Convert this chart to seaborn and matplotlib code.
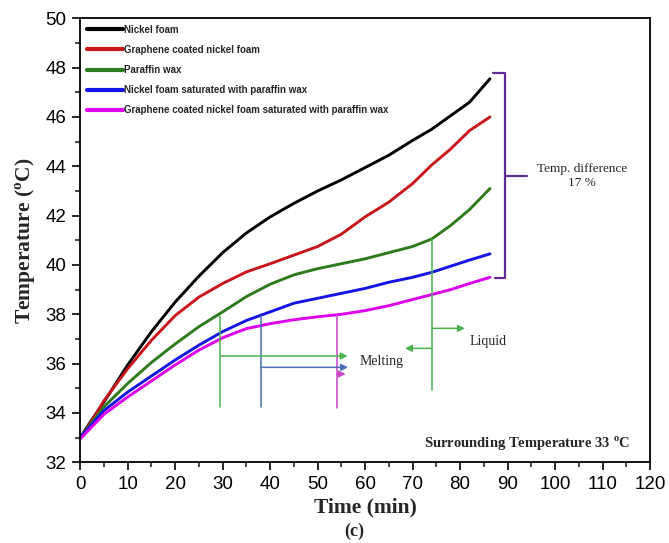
import pandas as pd
import matplotlib.pyplot as plt
import seaborn as sns

# time (min) and temperature (degC)
time = [0, 2, 5, 10, 15, 20, 25, 30, 35, 40, 45, 50, 55, 60, 65, 70, 74, 78, 82, 86.3]

nickel_foam = [33.0, 33.6, 34.45, 35.95, 37.3, 38.5, 39.55, 40.5, 41.3, 41.95,
               42.5, 43.0, 43.45, 43.95, 44.45, 45.05, 45.5, 46.05, 46.6, 47.55]
graphene_foam = [33.0, 33.55, 34.5, 35.8, 36.95, 37.95, 38.7, 39.25, 39.72, 40.05,
                 40.4, 40.75, 41.25, 41.95, 42.55, 43.3, 44.05, 44.7, 45.45, 46.0]
paraffin = [33.0, 33.5, 34.25, 35.2, 36.05, 36.8, 37.5, 38.1, 38.72, 39.22,
            39.6, 39.85, 40.05, 40.25, 40.5, 40.75, 41.05, 41.6, 42.25, 43.1]
nickel_paraffin = [33.0, 33.45, 34.1, 34.85, 35.5, 36.15, 36.75, 37.3, 37.75, 38.1,
                   38.45, 38.65, 38.85, 39.05, 39.3, 39.5, 39.7, 39.95, 40.2, 40.45]
graphene_paraffin = [32.95, 33.35, 33.95, 34.65, 35.3, 35.95, 36.55, 37.05, 37.42, 37.62,
                     37.78, 37.9, 38.0, 38.15, 38.35, 38.6, 38.8, 39.0, 39.25, 39.5]

labels = ["Nickel foam",
          "Graphene coated nickel foam",
          "Paraffin wax",
          "Nickel foam saturated with paraffin wax",
          "Graphene coated nickel foam saturated with paraffin wax"]
colors = ["#000000", "#c8161d", "#2f7a1c", "#1414e6", "#dd00ee"]

series = [nickel_foam, graphene_foam, paraffin, nickel_paraffin, graphene_paraffin]
df = pd.concat([pd.DataFrame({"Time": time, "Temp": vals, "Sample": lab})
                for lab, vals in zip(labels, series)], ignore_index=True)

sns.set_style("ticks")
plt.rcParams["font.family"] = ["Liberation Sans", "DejaVu Sans"]
plt.rcParams["mathtext.fontset"] = "custom"
plt.rcParams["mathtext.rm"] = "Liberation Serif"
plt.rcParams["mathtext.bf"] = "Liberation Serif:bold"

fig = plt.figure(figsize=(6.69, 5.43), dpi=100)
ax = fig.add_axes([0.12, 0.1486, 0.8516, 0.8177])

sns.lineplot(data=df, x="Time", y="Temp", hue="Sample", palette=colors,
             linewidth=2.1, ax=ax)

ax.set_xlim(0, 120)
ax.set_ylim(32, 50)
ax.set_xticks(range(0, 121, 10))
ax.set_xticks(range(5, 120, 10), minor=True)
ax.set_yticks(range(32, 51, 2))
ax.set_yticks(range(33, 50, 2), minor=True)
ax.tick_params(axis="both", which="major", direction="out", length=5.5, width=1.2,
               labelsize=13.5, color="black", labelcolor="black", pad=4.5)
ax.tick_params(axis="both", which="minor", direction="out", length=3.8, width=1.2)
for sp in ax.spines.values():
    sp.set_color("black")
    sp.set_linewidth(1.3)

serif = ["Liberation Serif", "DejaVu Serif"]
ax.set_xlabel("Time (min)", fontsize=15.5, fontweight="bold", family=serif)
ax.xaxis.set_label_coords(0.5, -0.1007)
ax.xaxis.label.set_verticalalignment("center")
ax.set_ylabel(r"Temperature ($^{\mathbf{o}}$C)", fontsize=15.5, fontweight="bold",
              family=serif)
ax.yaxis.set_label_coords(-0.0965, 0.5)
ax.yaxis.label.set_verticalalignment("center")
fig.text(0.53, 0.022, "(c)", fontsize=13, fontweight="bold", family=serif,
         ha="center", va="center")

leg = ax.legend(loc="upper left", bbox_to_anchor=(0.0, 1.0), frameon=False,
                fontsize=7, handlelength=3.7, handletextpad=0.15, labelspacing=1.05,
                borderaxespad=0.3, borderpad=0.35)
for line in leg.get_lines():
    line.set_linewidth(3)
for t in leg.get_texts():
    t.set_fontweight("bold")

# melting / liquid markers
green_a, blue_a, mag_a = "#4caf50", "#4a6fb5", "#c845c8"
ax.plot([29.5, 29.5], [34.25, 37.97], color=green_a, lw=1.1)
ax.plot([38.1, 38.1], [34.25, 37.93], color=blue_a, lw=1.1)
ax.plot([54.0, 54.0], [34.2, 37.97], color=mag_a, lw=1.1)
arrow = dict(arrowstyle="-|>", lw=1.1, mutation_scale=10, shrinkA=0, shrinkB=0)
ax.annotate("", xy=(56.3, 36.31), xytext=(29.5, 36.31), arrowprops=dict(arrow, color=green_a))
ax.annotate("", xy=(56.4, 35.85), xytext=(38.1, 35.85), arrowprops=dict(arrow, color=blue_a))
ax.annotate("", xy=(55.9, 35.58), xytext=(54.0, 35.58), arrowprops=dict(arrow, color=mag_a))
ax.text(58.9, 36.07, "Melting", fontsize=10, family=serif, va="center")

ax.plot([74.1, 74.1], [34.93, 41.05], color=green_a, lw=1.1)
ax.annotate("", xy=(81.0, 37.43), xytext=(74.1, 37.43), arrowprops=dict(arrow, color=green_a))
ax.annotate("", xy=(68.4, 36.62), xytext=(74.1, 36.62), arrowprops=dict(arrow, color=green_a))
ax.text(82.0, 36.88, "Liquid", fontsize=10, family=serif, va="center")

# bracket for temperature difference
purple = "#5e2d91"
ax.plot([87.0, 89.4, 89.4, 87.3], [47.77, 47.77, 39.46, 39.46], color=purple, lw=1.6)
ax.plot([89.4, 94.0], [43.61, 43.61], color=purple, lw=1.6)
ax.text(105.7, 43.6, "Temp. difference\n17 %", fontsize=9.5, family=serif,
        ha="center", va="center", linespacing=1.2)

ax.text(115.8, 32.74, r"Surrounding Temperature 33 $^{\mathbf{o}}$C", fontsize=10.5,
        fontweight="bold", family=serif, ha="right", va="center")

fig.savefig("out.png", dpi=100)
